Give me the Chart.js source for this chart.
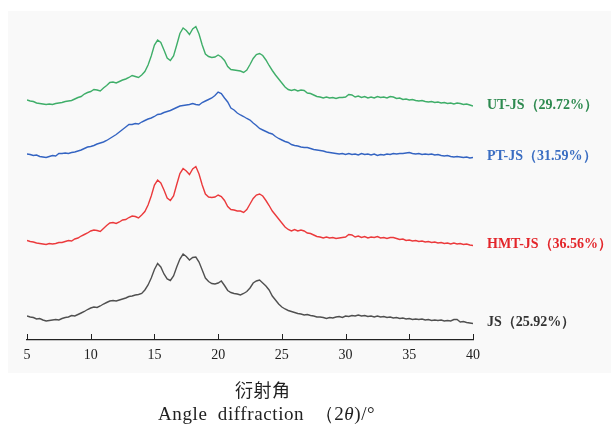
<!DOCTYPE html>
<html>
<head>
<meta charset="utf-8">
<title>XRD</title>
<script src="https://cdn.jsdelivr.net/npm/chart.js@4.4.1/dist/chart.umd.min.js"></script>
<style>
  body { margin: 0; background: #fff; }
  #wrap { position: relative; width: 611px; height: 425px; overflow: hidden; }
  #panel { position: absolute; left: 8px; top: 11px; width: 603px; height: 362px; background: #f9f9f9; }
  #xrdChart { position: absolute; left: 0; top: 0; }
  .axis-cn { position: absolute; left: 235px; top: 376px; font: 18px "Noto Sans CJK SC", sans-serif; color: #222; letter-spacing: 0.5px; }
  .axis-en { position: absolute; left: 158px; top: 401px; font: 19px "Liberation Serif", serif; color: #222; word-spacing: 5px; letter-spacing: 0.6px; white-space: nowrap; }
</style>
</head>
<body>
<div id="wrap">
  <div id="panel"></div>
  <canvas id="xrdChart" width="611" height="425"></canvas>
  <div class="axis-cn">衍射角</div>
  <div class="axis-en">Angle diffraction （2<i>θ</i>)/°</div>
</div>
<script>
// 2θ sampling grid of the scans (degrees)
const angleStart = 5;
const angleStep = 0.25;
const xTicks = [5, 10, 15, 20, 25, 30, 35, 40];

const sampleNames = ['JS', 'HMT-JS', 'PT-JS', 'UT-JS'];
const crystallinity = [25.92, 36.56, 31.59, 29.72];

// intensities (stacked, arbitrary units), one value per grid step
const jsCounts = [
  24, 23, 22.5, 21, 21.5, 20, 19, 19.5, 20, 20.5,
  20, 21.5, 22.5, 23, 24.5, 24, 25.5, 27, 28.5, 30.5,
  32, 33, 32.5, 34, 36, 37.5, 39, 39.5, 39, 40,
  41, 42, 43.5, 44, 45, 45.5, 46.5, 50, 55, 62,
  70.5, 76.5, 73, 66, 61, 59.5, 64, 73, 81, 86,
  83.5, 80, 82.5, 83, 78, 70, 62, 58.5, 56.5, 56,
  57, 59, 54.5, 49.5, 47.5, 46.5, 46, 45, 46.5, 48.5,
  52, 57, 59, 60, 57, 54, 50, 44, 40, 36,
  33, 31, 29.5, 28.5, 27.5, 26.5, 26, 25, 25.5, 24.5,
  24, 23, 23, 22.5, 21.5, 22.5, 22, 23, 23.5, 22.5,
  24, 23.5, 24.5, 24, 25, 24, 24.5, 23.5, 24, 23,
  24, 23, 23.5, 22.5, 23, 22, 22.5, 21.5, 22, 21,
  21.5, 20.5, 21, 20.5, 21, 20, 20.5, 19.5, 20, 19.5,
  20, 19, 19.5, 19, 20.5, 20.5, 18, 18.5, 17.5, 17,
  16.5
];
const hmtCounts = [
  99.5, 98.5, 98, 97, 96.5, 96, 95.5, 96.5, 96, 96.5,
  97.5, 97.5, 98.5, 99.5, 99, 101, 102, 104, 105.5, 107,
  109, 110, 109.5, 108.5, 111.5, 114.5, 117, 117.5, 116.5, 118,
  120, 120.5, 122.5, 124, 123.5, 122, 125, 128.5, 135, 144,
  155, 160, 157, 150, 142, 139.5, 144, 155.5, 166.5, 171.5,
  169, 165.5, 171, 173.5, 166, 155, 146, 143, 142.5, 143,
  145, 143.5, 139.5, 133.5, 130.5, 130, 129, 129, 127.5, 130.5,
  136, 141.5, 145, 146, 144, 139.5, 134.5, 129, 125, 121,
  117, 113, 110.5, 109, 110.5, 109, 110, 109, 107, 106.5,
  105, 103.5, 103, 102, 103, 102, 102.5, 101.5, 102, 102.5,
  103, 105.5, 105, 103, 104, 102.5, 103.5, 102, 103, 102.5,
  103.5, 102, 102.5, 101.5, 102.5, 102.5, 101.5, 100.5, 101, 99.5,
  100, 99, 99.5, 98.5, 99, 98, 98.5, 97.5, 98, 97,
  97.5, 96.5, 97, 96, 97, 96, 96.5, 95.5, 96, 95,
  94.5
];
const ptCounts = [
  186, 185.5, 184.5, 185, 183.5, 183, 182.5, 183.5, 184.5, 184,
  186.5, 186.5, 187, 186.5, 187.5, 188, 189, 190, 191.5, 193,
  193.5, 194.5, 196, 197, 198, 199.5, 201.5, 203.5, 205.5, 208,
  210.5, 213, 215.5, 215.5, 216.5, 216, 218, 219.5, 221, 222,
  223.5, 225.5, 226, 227.5, 228.5, 229.5, 231, 232.5, 234, 234.5,
  235, 235.5, 236.5, 235.5, 235, 237.5, 239, 240.5, 242, 244.5,
  248, 246.5, 242, 238, 232, 230, 227, 225, 223.5, 221.5,
  220, 217, 214.5, 211.5, 210, 208.5, 207, 206, 203.5, 201.5,
  200, 198.5, 197.5, 195.5, 194.5, 194, 193, 192.5, 192.5, 191.5,
  190.5, 190, 189.5, 189, 188, 187.5, 187, 186.5, 186, 186.5,
  185.5, 186.5, 185.5, 186, 185, 186.5, 185.5, 186, 185, 186,
  184.5, 185.5, 185, 186, 185.5, 186.5, 186, 186.5, 186.5, 187,
  187.5, 186.5, 186, 186.5, 185.5, 186, 185.5, 186, 185, 185.5,
  184.5, 184, 184.5, 183.5, 183, 183.5, 183, 182.5, 183, 182,
  182.5
];
const utCounts = [
  240, 239, 238.5, 237, 236.5, 236, 235.5, 236, 235.5, 236.5,
  237, 237.5, 238.5, 239, 239.5, 241, 242.5, 243.5, 246, 247.5,
  248.5, 250.5, 250, 249, 252, 254.5, 257.5, 258, 257, 258.5,
  260, 261, 262.5, 264.5, 263.5, 262.5, 265, 268.5, 275, 284,
  295, 300, 297.5, 290, 282, 279.5, 284, 295, 306.5, 312,
  309.5, 305.5, 311, 313.5, 306, 295, 286, 283.5, 282.5, 283,
  285, 283, 279.5, 273.5, 270.5, 270, 269.5, 269, 267.5, 270,
  275.5, 281.5, 285.5, 286.5, 284.5, 280, 274.5, 269.5, 265, 261,
  257, 253, 250.5, 249.5, 250.5, 249, 250, 249.5, 247, 246.5,
  245, 243.5, 243, 242, 243, 242, 242.5, 241.5, 242.5, 242.5,
  243, 245.5, 245, 243, 244, 242.5, 243.5, 242, 243, 242,
  243.5, 242.5, 243, 242, 243.5, 243, 241.5, 242, 240.5, 241,
  240, 240.5, 239.5, 239, 239.5, 238.5, 238, 238.5, 237.5, 238,
  237, 237.5, 236.5, 237, 236, 237, 236.5, 235.5, 236, 235,
  234
];

const lineColors = ['#505050', '#eb3a3c', '#3464c2', '#3fae69'];
const textColors = ['#333333', '#e3252a', '#3a6dc2', '#2e8a50'];
const allCounts = [jsCounts, hmtCounts, ptCounts, utCounts];

function toPoints(arr) {
  return arr.map((v, i) => ({ x: angleStart + i * angleStep, y: v }));
}

// sample name + crystallinity written at the right end of each curve
const endLabels = {
  id: 'endLabels',
  afterDatasetsDraw(chart) {
    const ctx = chart.ctx;
    ctx.save();
    ctx.font = 'bold 14px "Liberation Serif", serif';
    ctx.textBaseline = 'middle';
    chart.data.datasets.forEach((ds, i) => {
      const meta = chart.getDatasetMeta(i);
      const last = meta.data[meta.data.length - 1];
      ctx.fillStyle = ds.textColor;
      ctx.fillText(ds.label, chart.chartArea.right + 14, last.y - 1);
    });
    ctx.restore();
  }
};

// tick marks pointing up into the plot
const innerTicks = {
  id: 'innerTicks',
  afterDraw(chart) {
    const ctx = chart.ctx;
    const xs = chart.scales.x;
    const bottom = chart.chartArea.bottom;
    ctx.save();
    ctx.strokeStyle = '#222';
    ctx.lineWidth = 1;
    xTicks.forEach(t => {
      const px = Math.round(xs.getPixelForValue(t)) + 0.5;
      ctx.beginPath();
      ctx.moveTo(px, bottom);
      ctx.lineTo(px, bottom - 6);
      ctx.stroke();
    });
    ctx.restore();
  }
};

const ctx = document.getElementById('xrdChart').getContext('2d');
new Chart(ctx, {
  type: 'line',
  data: {
    datasets: sampleNames.map((name, i) => ({
      label: `${name}（${crystallinity[i].toFixed(2)}%）`,
      data: toPoints(allCounts[i]),
      borderColor: lineColors[i],
      textColor: textColors[i],
      borderWidth: 1.4,
      pointRadius: 0,
      tension: 0,
      fill: false
    }))
  },
  options: {
    responsive: false,
    animation: false,
    devicePixelRatio: 1,
    layout: { padding: { left: 27, right: 138, top: 20, bottom: 55 } },
    plugins: { legend: { display: false }, tooltip: { enabled: false } },
    scales: {
      x: {
        type: 'linear',
        min: 5,
        max: 40,
        afterBuildTicks: (scale) => { scale.ticks = xTicks.map(v => ({ value: v })); },
        afterFit: (scale) => { scale.height = 30; },
        grid: { display: false, drawTicks: false },
        border: { display: true, color: '#222', width: 1.2 },
        ticks: {
          padding: 7,
          color: '#222',
          font: { family: '"Liberation Serif", serif', size: 14 }
        }
      },
      y: {
        display: false,
        min: 0,
        max: 320
      }
    }
  },
  plugins: [endLabels, innerTicks]
});
</script>
</body>
</html>
